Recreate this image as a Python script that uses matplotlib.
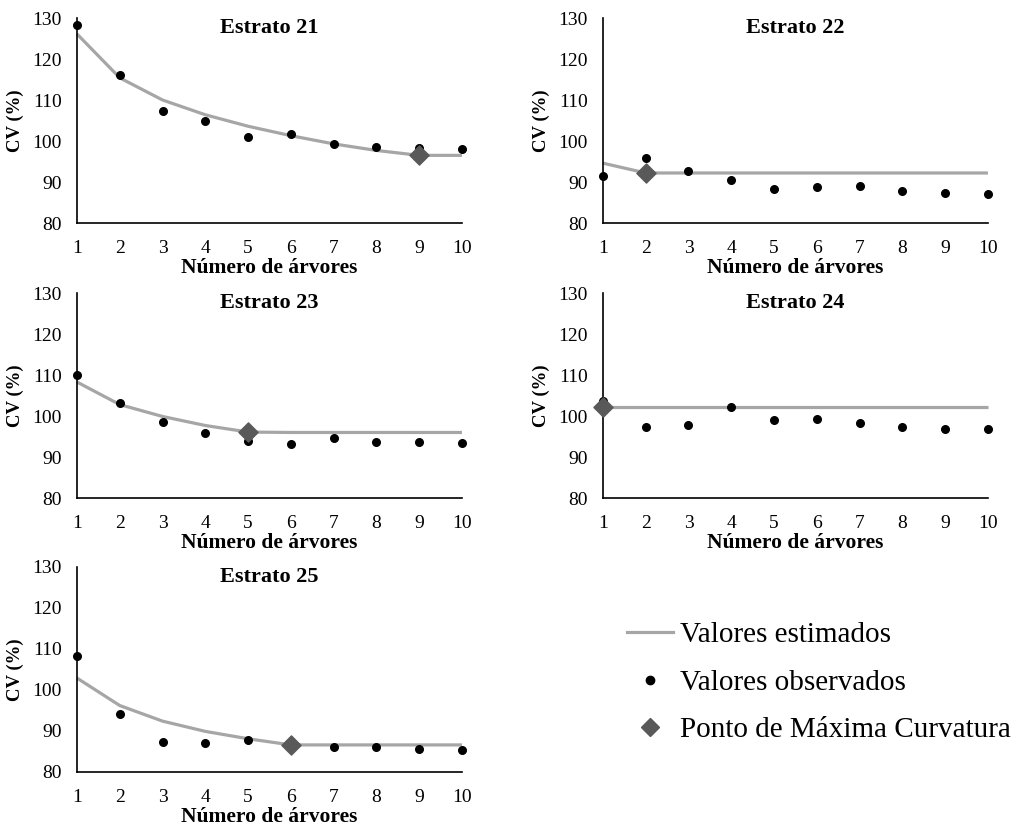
import matplotlib
matplotlib.use('Agg')
import matplotlib.pyplot as plt
from matplotlib.lines import Line2D

plt.rcParams['font.family'] = ['Liberation Serif', 'DejaVu Serif']

n_arvores = [1, 2, 3, 4, 5, 6, 7, 8, 9, 10]

obs_21 = [128.3, 116.0, 107.4, 104.9, 100.9, 101.6, 99.3, 98.5, 98.2, 98.0]
est_21 = [126.1, 115.4, 110.0, 106.4, 103.6, 101.3, 99.3, 97.7, 96.5, 96.5]
obs_22 = [91.4, 95.9, 92.7, 90.5, 88.4, 88.9, 89.1, 87.9, 87.3, 87.0]
est_22 = [94.6, 92.2, 92.2, 92.2, 92.2, 92.2, 92.2, 92.2, 92.2, 92.2]
obs_23 = [109.9, 103.3, 98.6, 95.8, 93.9, 93.2, 94.7, 93.7, 93.7, 93.5]
est_23 = [108.3, 102.8, 99.9, 97.7, 96.1, 96.0, 96.0, 96.0, 96.0, 96.0]
obs_24 = [103.6, 97.3, 97.8, 102.1, 99.1, 99.4, 98.2, 97.3, 96.8, 96.8]
est_24 = [102.2, 102.2, 102.2, 102.2, 102.2, 102.2, 102.2, 102.2, 102.2, 102.2]
obs_25 = [108.2, 94.1, 87.2, 87.1, 87.7, 86.6, 86.2, 86.2, 85.6, 85.3]
est_25 = [102.9, 96.2, 92.4, 89.9, 88.1, 86.6, 86.6, 86.6, 86.6, 86.6]

# ponto de maxima curvatura (x, CV)
pmc_21 = (9, 96.5)
pmc_22 = (2, 92.2)
pmc_23 = (5, 96.1)
pmc_24 = (1, 102.2)
pmc_25 = (6, 86.6)

estratos = ['Estrato 21', 'Estrato 22', 'Estrato 23', 'Estrato 24', 'Estrato 25']
observados = [obs_21, obs_22, obs_23, obs_24, obs_25]
estimados = [est_21, est_22, est_23, est_24, est_25]
pontos = [pmc_21, pmc_22, pmc_23, pmc_24, pmc_25]

cor_linha = '#a6a6a6'
cor_ponto = '#595959'

fig = plt.figure(figsize=(10.12, 8.26), dpi=100)

lefts = [0.0761, 0.5958, 0.0761, 0.5958, 0.0761]
bottoms = [0.730, 0.730, 0.397, 0.397, 0.0654]
w, h = 0.3804, 0.2482

for i in range(5):
    ax = fig.add_axes([lefts[i], bottoms[i], w, h])
    ax.plot(n_arvores, estimados[i], color=cor_linha, lw=2.3, zorder=2,
            solid_capstyle='butt', clip_on=False)
    ax.scatter(n_arvores, observados[i], s=30, color='black', zorder=3,
               clip_on=False)
    ax.scatter([pontos[i][0]], [pontos[i][1]], marker='D', s=95,
               color=cor_ponto, zorder=4, clip_on=False)

    ax.set_xlim(1, 10)
    ax.set_ylim(80, 130)
    ax.set_xticks(n_arvores)
    ax.set_yticks([80, 90, 100, 110, 120, 130])
    ax.tick_params(length=0, labelsize=14)
    ax.tick_params(axis='x', pad=12)
    ax.tick_params(axis='y', pad=11)
    for s in ['top', 'right']:
        ax.spines[s].set_visible(False)
    for s in ['left', 'bottom']:
        ax.spines[s].set_linewidth(1.2)
        ax.spines[s].set_color('black')

    ax.text(0.5, 0.951, estratos[i], transform=ax.transAxes, ha='center',
            va='center', fontsize=16, fontweight='bold')
    ax.set_xlabel('Número de árvores', fontsize=15.5, fontweight='bold')
    ax.xaxis.label.set_va('center')
    ax.xaxis.set_label_coords(0.5, -0.22)
    ax.set_ylabel('CV (%)', fontsize=13.5, fontweight='bold')
    ax.yaxis.label.set_va('center')
    ax.yaxis.set_label_coords(-0.16, 0.5)

handles = [
    Line2D([], [], color=cor_linha, lw=2.3),
    Line2D([], [], color='black', marker='o', ls='none', markersize=6),
    Line2D([], [], color=cor_ponto, marker='D', ls='none', markersize=9),
]
labels = ['Valores estimados', 'Valores observados', 'Ponto de Máxima Curvatura']
fig.legend(handles, labels, loc='upper left', bbox_to_anchor=(0.6196, 0.247),
           frameon=False, fontsize=21, handlelength=1.58, handletextpad=0.24,
           labelspacing=0.72, borderpad=0, borderaxespad=0)

fig.savefig('out.png', dpi=100)
